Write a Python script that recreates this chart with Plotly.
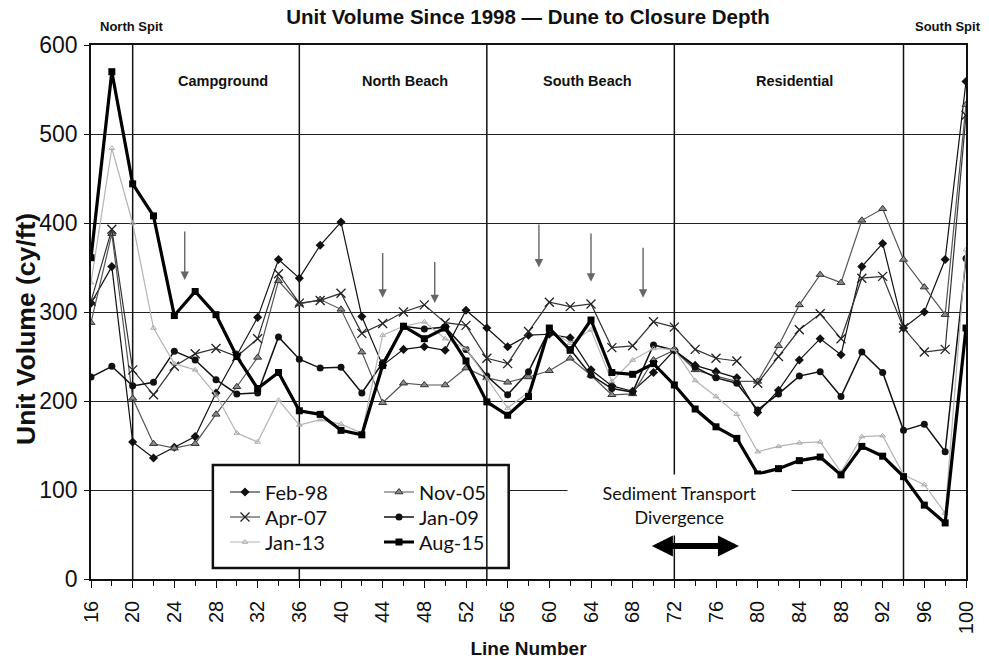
import plotly.graph_objects as go

# Survey line numbers along the shoreline
line_no = [16, 18, 20, 22, 24, 26, 28, 30, 32, 34, 36, 38, 40, 42, 44, 46, 48, 50, 52, 54, 56, 58,
           60, 62, 64, 66, 68, 70, 72, 74, 76, 78, 80, 82, 84, 86, 88, 90, 92, 94, 96, 98, 100]

# Unit volume (cy/ft) per survey
feb98 = [310, 351, 154, 136, 148, 160, 209, 252, 294, 359, 338, 375, 401, 295, 240, 258, 261, 257, 302, 282, 261, 274,
         275, 271, 235, 217, 211, 232, 257, 240, 233, 226, 187, 212, 246, 270, 252, 351, 377, 282, 300, 359, 559]
nov05 = [288, 388, 203, 152, 147, 152, 185, 216, 249, 335, 309, 314, 303, 255, 198, 220, 218, 218, 237, 226, 221, 227,
         234, 248, 229, 207, 208, 246, 257, 235, 228, 222, 222, 262, 308, 342, 333, 403, 416, 359, 328, 297, 533]
apr07 = [312, 393, 235, 207, 239, 253, 259, 250, 270, 343, 310, 313, 321, 276, 287, 300, 308, 288, 285, 248, 242, 278,
         311, 306, 309, 260, 262, 289, 283, 258, 248, 245, 220, 250, 280, 298, 270, 338, 340, 282, 255, 258, 521]
jan09 = [227, 239, 217, 221, 256, 246, 224, 208, 209, 272, 247, 237, 238, 209, 243, 284, 281, 283, 258, 228, 207, 233,
         280, 258, 229, 214, 210, 263, 257, 238, 226, 220, 190, 208, 228, 233, 205, 255, 232, 167, 174, 143, 360]
jan13 = [333, 484, 400, 282, 242, 235, 207, 164, 154, 201, 173, 179, 174, 164, 274, 284, 289, 270, 259, 225, 192, 210,
         280, 265, 280, 222, 246, 259, 258, 223, 205, 185, 143, 149, 153, 154, 120, 160, 161, 117, 106, 74, 370]
aug15 = [361, 570, 444, 408, 296, 323, 297, 250, 214, 232, 189, 185, 167, 162, 240, 284, 270, 282, 245, 199, 184, 205,
         282, 257, 291, 232, 230, 242, 218, 191, 171, 158, 118, 124, 133, 137, 117, 149, 138, 115, 83, 63, 282]

# Reach boundaries and reach names
boundaries = [20, 36, 54, 72, 94]
reach_names = ["Campground", "North Beach", "South Beach", "Residential"]
reach_x = [28.7, 46.1, 63.7, 83.5]

# Downward pointer arrows (line number, tail value, head value)
arrow_x = [25, 44, 49, 59, 64, 69]
arrow_top = [392, 368, 358, 400, 390, 374]
arrow_tip = [336, 316, 310, 350, 334, 316]

y_ticks = [0, 100, 200, 300, 400, 500, 600]
x_ticks = list(range(16, 101, 4))

ARIAL = "Liberation Sans, Arial, sans-serif"
CAL = "Lato, Carlito, Calibri, sans-serif"

# plot area in pixels
L, R, T, B = 91, 23, 45, 80
W, H = 989, 659
PW, PH = W - L - R, H - T - B


def px_x(p):
    return (p - L) / PW


def px_y(p):
    return (H - B - p) / PH


fig = go.Figure()

series = [
    ("Feb-98", feb98, dict(color="#111", width=1.2), dict(symbol="diamond", size=7, color="#111")),
    ("Nov-05", nov05, dict(color="#555", width=1.2),
     dict(symbol="triangle-up", size=7, color="#8a8a8a", line=dict(color="#333", width=1))),
    ("Apr-07", apr07, dict(color="#333", width=1.2),
     dict(symbol="x-thin", size=9, color="#222", line=dict(color="#222", width=1.3))),
    ("Jan-09", jan09, dict(color="#111", width=1.5), dict(symbol="circle", size=7, color="#111")),
    ("Jan-13", jan13, dict(color="#b4b4b4", width=1.2),
     dict(symbol="triangle-up-open", size=5, color="#aaa", line=dict(color="#aaa", width=1))),
    ("Aug-15", aug15, dict(color="#000", width=3.2), dict(symbol="square", size=7, color="#000")),
]
# legend slots: two columns, three rows (pixel position of text start / row centre)
legend_ids = ["legend", "legend2", "legend3", "legend4", "legend5", "legend6"]
legend_pos = [(266, 492), (420, 492), (266, 517), (420, 517), (266, 542), (420, 542)]

for (name, vals, ln, mk), lid in zip(series, legend_ids):
    fig.add_trace(go.Scatter(x=line_no, y=vals, name=name, mode="lines+markers",
                             line=ln, marker=mk, legend=lid))

shapes = []
for b in boundaries:
    shapes.append(dict(type="line", xref="x", yref="y", x0=b, x1=b, y0=0, y1=600,
                       line=dict(color="#111", width=1.5), layer="below"))
# white legend box
shapes.append(dict(type="rect", xref="x", yref="y", x0=27.7, x1=56.1, y0=12.4, y1=128,
                   fillcolor="white", line=dict(color="#111", width=2.5), layer="above"))
# reach boundary visible across the legend box
shapes.append(dict(type="line", xref="x", yref="y", x0=54, x1=54, y0=12.4, y1=128,
                   line=dict(color="#111", width=1.5), layer="above"))

annotations = []
for nm, xx in zip(reach_names, reach_x):
    annotations.append(dict(x=xx, y=560, xref="x", yref="y", text=f"<b>{nm}</b>", showarrow=False,
                            font=dict(family=ARIAL, size=14.5, color="#111")))
annotations.append(dict(x=px_x(131), y=px_y(27), xref="paper", yref="paper", xanchor="center", yanchor="middle",
                        text="<b>North Spit</b>", showarrow=False,
                        font=dict(family=ARIAL, size=13, color="#111")))
annotations.append(dict(x=px_x(948), y=px_y(27), xref="paper", yref="paper", xanchor="center", yanchor="middle",
                        text="<b>South Spit</b>", showarrow=False,
                        font=dict(family=ARIAL, size=13, color="#111")))
annotations.append(dict(x=px_x(26), y=px_y(329), xref="paper", yref="paper", xanchor="center", yanchor="middle",
                        text="<b>Unit Volume (cy/ft)</b>", textangle=-90, showarrow=False,
                        font=dict(family=ARIAL, size=26.5, color="#111")))
for xa, yt, yh in zip(arrow_x, arrow_top, arrow_tip):
    annotations.append(dict(x=xa, y=yh, ax=xa, ay=yt, xref="x", yref="y", axref="x", ayref="y",
                            text="", showarrow=True, arrowhead=2, arrowsize=1.2, arrowwidth=1.4,
                            arrowcolor="#666"))
annotations.append(dict(x=72.5, y=83, xref="x", yref="y", text="Sediment Transport<br>Divergence",
                        showarrow=False, bgcolor="white", width=221, height=58,
                        font=dict(family=CAL, size=18, color="#111")))
annotations.append(dict(x=78.2, y=37, ax=69.7, ay=37, xref="x", yref="y", axref="x", ayref="y",
                        text="", showarrow=True, arrowside="end+start", arrowhead=2,
                        arrowsize=0.7, arrowwidth=6, arrowcolor="#000"))

layout_legends = {}
for lid, (tx, ty) in zip(legend_ids, legend_pos):
    layout_legends[lid] = dict(x=px_x(tx - 41), y=px_y(ty), xanchor="left", yanchor="middle",
                               bgcolor="rgba(0,0,0,0)", borderwidth=0, itemwidth=30,
                               font=dict(family=CAL, size=20, color="#111"))

fig.update_layout(
    width=W, height=H,
    margin=dict(l=L, r=R, t=T, b=B),
    paper_bgcolor="white", plot_bgcolor="white",
    title=dict(text="<b>Unit Volume Since 1998 — Dune to Closure Depth</b>", x=528 / W,
               xanchor="center", y=1 - 17 / H, yanchor="middle",
               font=dict(family=ARIAL, size=20.5, color="#111")),
    shapes=shapes,
    annotations=annotations,
    xaxis=dict(range=[16, 100], tickvals=x_ticks, ticktext=[str(v) for v in x_ticks],
               tickangle=-90, ticks="outside", ticklen=7, tickwidth=1.2, tickcolor="#111",
               minor=dict(dtick=2, tick0=16, ticks="outside", ticklen=5, tickcolor="#111", showgrid=False),
               showgrid=False, zeroline=False, showline=True, linecolor="#111", linewidth=1.5, mirror=True,
               automargin=False, ticklabelstandoff=5,
               tickfont=dict(family=ARIAL, size=20, color="#111"),
               title=dict(text="<b>Line Number</b>", font=dict(family=ARIAL, size=19, color="#111"), standoff=10)),
    yaxis=dict(range=[0, 600], tickvals=y_ticks, ticks="outside", ticklen=5, tickcolor="#111",
               showgrid=True, gridcolor="#222", gridwidth=1.2, zeroline=False,
               showline=True, linecolor="#111", linewidth=1.5, mirror=True,
               automargin=False, ticklabelstandoff=2,
               tickfont=dict(family=ARIAL, size=23, color="#111")),
    showlegend=True,
    **layout_legends,
)

fig.write_html("out.html")
